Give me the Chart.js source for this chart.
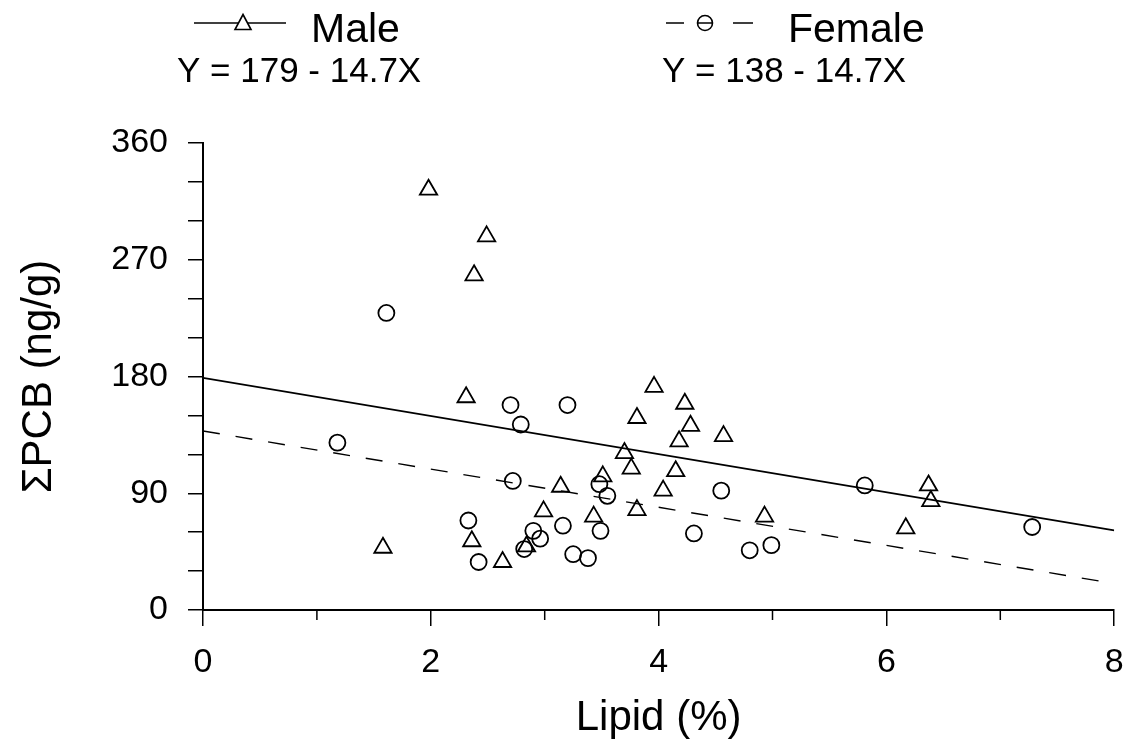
<!DOCTYPE html>
<html>
<head>
<meta charset="utf-8">
<script src="https://cdn.jsdelivr.net/npm/chart.js@4.4.0/dist/chart.umd.min.js"></script>
<style>
  html, body { margin: 0; padding: 0; background: #fff; }
  #wrap { position: relative; width: 1126px; height: 748px; }
</style>
</head>
<body>
<div id="wrap"><canvas id="chart" width="1126" height="748"></canvas></div>
<script>
// Data
const maleLipid = [1.98, 2.49, 2.38, 2.31, 3.96, 3.81, 3.70, 3.76, 3.51, 3.14, 2.99, 3.43, 3.81, 4.04,
  2.36, 1.58, 2.84, 2.63, 4.23, 4.28, 4.18, 4.57, 4.15, 4.93, 6.37, 6.39, 6.17]
const malePCB = [324, 288, 258, 164, 172, 148, 121, 109, 103, 95, 76, 72, 77, 92,
  53, 48, 49, 37, 159, 142, 130, 134, 107, 72, 96, 84, 63]
const femaleLipid = [1.61, 2.70, 3.20, 2.79, 1.18, 2.72, 3.48, 3.55, 2.33, 2.90, 2.96, 2.82,
  3.16, 3.49, 3.25, 3.38, 2.42, 4.55, 4.31, 4.80, 4.99, 5.81, 7.28]
const femalePCB = [229, 158, 158, 143, 129, 99.5, 97, 88, 69, 61, 55, 47,
  65, 61, 43, 40, 37, 92, 59, 46, 50, 96, 64]

const seriesNames = ['Male', 'Female']
const intercepts = [179, 138]
const slopes = [-14.7, -14.7]
const equations = ['Y = 179 - 14.7X', 'Y = 138 - 14.7X']
const xRange = [0, 8]
const yRange = [0, 360]
const xLabelTicks = [0, 2, 4, 6, 8]
const yLabelTicks = [0, 90, 180, 270, 360]

const FONT = "'Liberation Sans', Arial, sans-serif"

const toPoints = (xs, ys) => xs.map((x, i) => ({ x: x, y: ys[i] }))
const fitLine = (i) => xRange.map(x => ({ x: x, y: intercepts[i] + slopes[i] * x }))

// Shorter minor ticks on the x axis
const minorTicks = {
  id: 'minorTicks',
  afterDraw(chart) {
    const ctx = chart.ctx
    const xs = chart.scales.x
    ctx.save()
    ctx.strokeStyle = '#000'
    ctx.lineWidth = 1.5
    xs.ticks.forEach(t => {
      if (xLabelTicks.includes(t.value)) return
      const px = xs.getPixelForValue(t.value)
      ctx.beginPath()
      ctx.moveTo(px, xs.top)
      ctx.lineTo(px, xs.top + 10)
      ctx.stroke()
    })
    ctx.restore()
  }
}

// Legend with the regression equations underneath
const legendBlock = {
  id: 'legendBlock',
  afterDraw(chart) {
    const ctx = chart.ctx
    ctx.save()
    ctx.strokeStyle = '#000'
    ctx.lineWidth = 1.6

    // Male sample
    ctx.beginPath()
    ctx.moveTo(194, 23)
    ctx.lineTo(286, 23)
    ctx.stroke()
    ctx.fillStyle = '#fff'
    ctx.beginPath()
    ctx.moveTo(243, 14.5)
    ctx.lineTo(251, 29.5)
    ctx.lineTo(235, 29.5)
    ctx.closePath()
    ctx.fill()
    ctx.stroke()

    // Female sample
    ctx.beginPath()
    ctx.moveTo(666, 23); ctx.lineTo(684, 23)
    ctx.moveTo(733, 23); ctx.lineTo(753, 23)
    ctx.stroke()
    ctx.beginPath()
    ctx.arc(705, 23, 7.5, 0, Math.PI * 2)
    ctx.moveTo(697.5, 23); ctx.lineTo(712.5, 23)
    ctx.stroke()

    ctx.fillStyle = '#000'
    ctx.textBaseline = 'alphabetic'
    ctx.textAlign = 'left'
    ctx.font = '41px ' + FONT
    ctx.fillText(seriesNames[0], 311, 42)
    ctx.fillText(seriesNames[1], 788, 42)
    ctx.font = '35px ' + FONT
    ctx.fillText(equations[0], 177, 82)
    ctx.fillText(equations[1], 662, 82)
    ctx.restore()
  }
}

new Chart(document.getElementById('chart'), {
  data: {
    datasets: [
      {
        type: 'scatter',
        label: seriesNames[0],
        data: toPoints(maleLipid, malePCB),
        pointStyle: 'triangle',
        pointRadius: 10,
        pointHoverRadius: 10,
        borderColor: '#000',
        backgroundColor: 'rgba(0,0,0,0)',
        borderWidth: 1.8
      },
      {
        type: 'scatter',
        label: seriesNames[1],
        data: toPoints(femaleLipid, femalePCB),
        pointStyle: 'circle',
        pointRadius: 8,
        pointHoverRadius: 8,
        borderColor: '#000',
        backgroundColor: 'rgba(0,0,0,0)',
        borderWidth: 1.8
      },
      {
        type: 'line',
        label: seriesNames[0] + ' fit',
        data: fitLine(0),
        borderColor: '#000',
        borderWidth: 1.7,
        pointRadius: 0,
        fill: false
      },
      {
        type: 'line',
        label: seriesNames[1] + ' fit',
        data: fitLine(1),
        borderColor: '#000',
        borderWidth: 1.4,
        borderDash: [17, 16],
        pointRadius: 0,
        fill: false
      }
    ]
  },
  options: {
    responsive: false,
    animation: false,
    events: [],
    layout: {
      padding: { top: 143, right: 0, bottom: 0, left: 0 }
    },
    plugins: {
      legend: { display: false },
      tooltip: { enabled: false }
    },
    scales: {
      x: {
        type: 'linear',
        min: xRange[0],
        max: xRange[1],
        afterFit(scale) {
          scale.height = 138
          scale.paddingLeft = 0
          scale.paddingRight = 6
        },
        border: { display: true, color: '#000', width: 2 },
        grid: {
          drawOnChartArea: false,
          drawTicks: true,
          tickLength: 16,
          lineWidth: 1.5,
          tickColor: (c) => (c.tick && xLabelTicks.includes(c.tick.value)) ? '#000' : 'rgba(0,0,0,0)'
        },
        ticks: {
          stepSize: 1,
          padding: 16,
          color: '#000',
          maxRotation: 0,
          autoSkip: false,
          font: { family: FONT, size: 34 },
          callback: (v) => xLabelTicks.includes(v) ? String(v) : ''
        },
        title: {
          display: true,
          text: 'Lipid (%)',
          color: '#000',
          font: { family: FONT, size: 42 },
          padding: { top: 16, bottom: 4 }
        }
      },
      y: {
        type: 'linear',
        min: yRange[0],
        max: yRange[1],
        afterFit(scale) { scale.width = 203 },
        border: { display: true, color: '#000', width: 2 },
        grid: {
          drawOnChartArea: false,
          drawTicks: true,
          tickLength: 15,
          lineWidth: 1.5,
          tickColor: '#000'
        },
        ticks: {
          stepSize: 30,
          padding: 20,
          color: '#000',
          autoSkip: false,
          font: { family: FONT, size: 34 },
          callback: (v) => yLabelTicks.includes(v) ? String(v) : ''
        },
        title: {
          display: true,
          text: 'ΣPCB (ng/g)',
          color: '#000',
          font: { family: FONT, size: 42 },
          padding: { top: 14, bottom: 10 }
        }
      }
    }
  },
  plugins: [minorTicks, legendBlock]
})
</script>
</body>
</html>
